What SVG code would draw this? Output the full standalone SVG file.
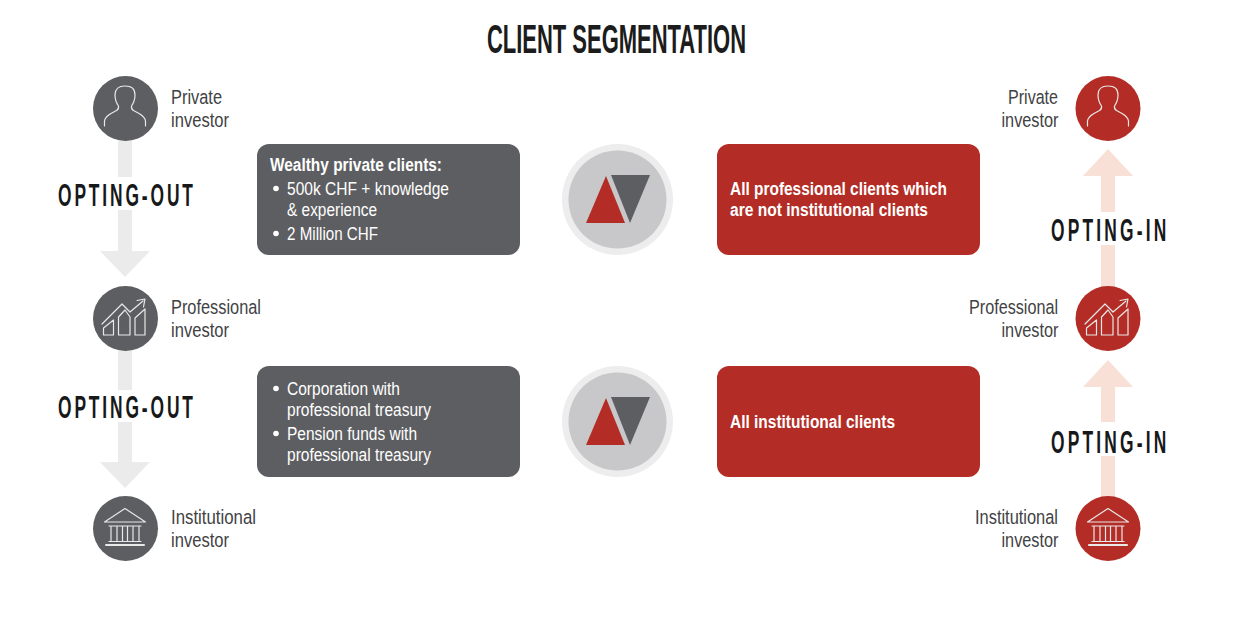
<svg xmlns="http://www.w3.org/2000/svg" width="1246" height="621" viewBox="0 0 1246 621">
<style>
text{font-family:"Liberation Sans",Arial,sans-serif}
.title{font-size:40px;font-weight:700;fill:#1c1c1c}
.lab{font-size:20.5px;fill:#414244}
.box{font-size:17.5px;fill:#fff}
.b{font-weight:700}
.opt{font-size:31px;font-weight:700;fill:#17181a}
.dk{fill:#5d5e61}
.rd{fill:#b32d26}
.ar-g{fill:#ecebeb}
.ar-r{fill:#f8e0d6}
.ico{fill:none;stroke:#e8e8e8;stroke-width:1.2;stroke-linejoin:round;stroke-linecap:round}
</style>
<defs>
<g id="person" class="ico"><path d="M-20.5 17V12Q-20 8-14 4.5L-8.500 1.5Q-6 0-6.500-3Q-10-8-10-14Q-10-23 0-23Q10-23 10-14Q10-8 6.500-3Q6 0 8.500 1.5L14 4.5Q20 8 20.5 12V17"/></g>
<g id="chart" class="ico"><path d="M-23 5L-3-15L5-7L18-18M12-18.5L20-20L18.5-12M-21.5 16V9L-11.5 1V16ZM-6.5 16V-2L0-9L5-2V16ZM10 16V-1L20-10V16Z"/></g>
<g id="bank" class="ico"><path d="M-20.5-7L0-20.500L20.500-7ZM-16-3H16M-14-3V12M-8-3V12M-2.500-3V12M2.500-3V12M8-3V12M14-3V12M-16 12.500H16"/><path d="M-19 16H19" stroke-width="2"/></g>
<g id="logo"><circle r="55.500" fill="#ededed"/><circle r="49" fill="#c8c8ca"/><path class="rd" d="M-11.500-23.500L-31.500 23.500H7.500Z"/><path class="dk" d="M-6.500-24.500H32.500L12.500 23.500Z"/></g>
</defs>

<text id="title" class="title" transform="translate(487 53) scale(.55 1)" textLength="471" lengthAdjust="spacing">CLIENT SEGMENTATION</text>

<g id="connectors">
<path class="ar-g" d="M118 141H132V177H118ZM118 210H132V251H150L125 277L100 251H118Z"/>
<path class="ar-g" d="M118 351H132V390H118ZM118 422H132V462H150L125 488L100 462H118Z"/>
<path class="ar-r" d="M1101 497H1115V456H1101ZM1101 422V387H1083L1108 360L1133 387H1115V422Z"/>
<path class="ar-r" d="M1101 287H1115V245H1101ZM1101 212V176H1083L1108 149L1133 176H1115V212Z"/>
</g>

<g id="opting-labels">
<text class="opt" transform="translate(58 205.500) scale(.56 1)" textLength="241" lengthAdjust="spacing">OPTING-OUT</text>
<text class="opt" transform="translate(58 418) scale(.56 1)" textLength="241" lengthAdjust="spacing">OPTING-OUT</text>
<text class="opt" transform="translate(1051 241) scale(.56 1)" textLength="206" lengthAdjust="spacing">OPTING-IN</text>
<text class="opt" transform="translate(1051 453) scale(.56 1)" textLength="206" lengthAdjust="spacing">OPTING-IN</text>
</g>

<g id="out-private"><circle class="dk" cx="125.500" cy="108.500" r="32.500"/><use href="#person" x="125" y="109"/>
<text class="lab" x="171" y="104" textLength="51" lengthAdjust="spacingAndGlyphs">Private</text><text class="lab" x="171" y="127" textLength="58" lengthAdjust="spacingAndGlyphs">investor</text></g>
<g id="out-professional"><circle class="dk" cx="125.500" cy="318.500" r="32.500"/><use href="#chart" x="125" y="319"/>
<text class="lab" x="171" y="314" textLength="90" lengthAdjust="spacingAndGlyphs">Professional</text><text class="lab" x="171" y="337" textLength="58" lengthAdjust="spacingAndGlyphs">investor</text></g>
<g id="out-institutional"><circle class="dk" cx="125.500" cy="528.500" r="32.500"/><use href="#bank" x="125" y="529"/>
<text class="lab" x="171" y="524" textLength="85" lengthAdjust="spacingAndGlyphs">Institutional</text><text class="lab" x="171" y="547" textLength="58" lengthAdjust="spacingAndGlyphs">investor</text></g>

<g id="in-private"><circle class="rd" cx="1108" cy="108.500" r="32.500"/><use href="#person" x="1108" y="109"/>
<text class="lab" x="1008" y="104" textLength="50" lengthAdjust="spacingAndGlyphs">Private</text><text class="lab" x="1001.500" y="127" textLength="57" lengthAdjust="spacingAndGlyphs">investor</text></g>
<g id="in-professional"><circle class="rd" cx="1108" cy="318.500" r="32.500"/><use href="#chart" x="1108" y="319"/>
<text class="lab" x="969" y="314" textLength="89" lengthAdjust="spacingAndGlyphs">Professional</text><text class="lab" x="1001.500" y="337" textLength="57" lengthAdjust="spacingAndGlyphs">investor</text></g>
<g id="in-institutional"><circle class="rd" cx="1108" cy="528.500" r="32.500"/><use href="#bank" x="1108" y="529"/>
<text class="lab" x="975" y="524" textLength="83" lengthAdjust="spacingAndGlyphs">Institutional</text><text class="lab" x="1001.500" y="547" textLength="57" lengthAdjust="spacingAndGlyphs">investor</text></g>

<g id="box-wealthy"><rect class="dk" x="257" y="144" width="263" height="111" rx="12"/>
<text class="box b" x="270" y="171" textLength="172" lengthAdjust="spacingAndGlyphs">Wealthy private clients:</text>
<circle cx="276" cy="188.500" r="2.800" fill="#fff"/><text class="box" x="287" y="195" textLength="162" lengthAdjust="spacingAndGlyphs">500k CHF + knowledge</text>
<text class="box" x="287" y="216" textLength="90" lengthAdjust="spacingAndGlyphs">&amp; experience</text>
<circle cx="276" cy="233.500" r="2.800" fill="#fff"/><text class="box" x="287" y="240" textLength="91" lengthAdjust="spacingAndGlyphs">2 Million CHF</text></g>

<g id="box-corporate"><rect class="dk" x="257" y="366" width="263" height="111" rx="12"/>
<circle cx="276" cy="388.500" r="2.800" fill="#fff"/><text class="box" x="287" y="395" textLength="113" lengthAdjust="spacingAndGlyphs">Corporation with</text>
<text class="box" x="287" y="416" textLength="144" lengthAdjust="spacingAndGlyphs">professional treasury</text>
<circle cx="276" cy="433.500" r="2.800" fill="#fff"/><text class="box" x="287" y="440" textLength="130" lengthAdjust="spacingAndGlyphs">Pension funds with</text>
<text class="box" x="287" y="461" textLength="144" lengthAdjust="spacingAndGlyphs">professional treasury</text></g>

<g id="logo-top"><use href="#logo" x="617.500" y="199.500"/></g>
<g id="logo-bottom"><use href="#logo" x="617.500" y="421.500"/></g>

<g id="box-professional"><rect class="rd" x="717" y="144" width="263" height="111" rx="12"/>
<text class="box b" x="730" y="195" textLength="217" lengthAdjust="spacingAndGlyphs">All professional clients which</text>
<text class="box b" x="730" y="216" textLength="198" lengthAdjust="spacingAndGlyphs">are not institutional clients</text></g>
<g id="box-institutional"><rect class="rd" x="717" y="366" width="263" height="111" rx="12"/>
<text class="box b" x="730" y="428" textLength="165" lengthAdjust="spacingAndGlyphs">All institutional clients</text></g>
</svg>
